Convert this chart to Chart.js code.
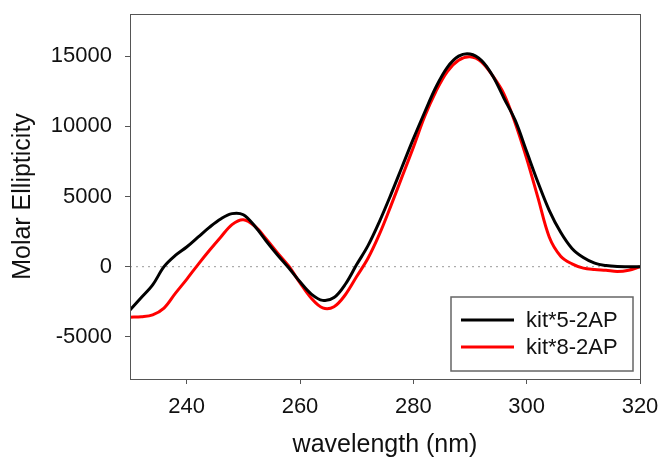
<!DOCTYPE html>
<html>
<head>
<meta charset="utf-8">
<script src="https://cdn.jsdelivr.net/npm/chart.js@4/dist/chart.umd.min.js"></script>
<style>
  html, body { margin: 0; padding: 0; background: #fff; }
  #wrap { width: 660px; height: 464px; }
</style>
</head>
<body>
<div id="wrap"><canvas id="cdChart" width="660" height="464"></canvas></div>
<script>
// CD spectra (molar ellipticity vs wavelength)
const wavelength = [230, 232, 234, 236, 238, 240, 242, 244, 246, 248,
  250, 252, 254, 256, 258, 260, 262, 264, 266, 268,
  270, 272, 274, 276, 278, 280, 282, 284, 286, 288,
  290, 292, 294, 296, 298, 300, 302, 304, 306, 308,
  310, 312, 314, 316, 318, 320];

const kit5 = [-3080, -2200, -1300, 0, 800, 1400, 2100, 2800, 3400, 3780,
  3700, 2900, 1850, 850, -80, -1080, -1950, -2400, -2200, -1250,
  150, 1500, 3200, 5100, 7100, 9100, 11000, 12800, 14200, 15000,
  15150, 14700, 13600, 12000, 10400, 8200, 6000, 4000, 2450, 1300,
  650, 250, 80, 10, 0, 0];

const kit8 = [-3600, -3560, -3430, -2950, -1900, -900, 150, 1150, 2100, 3000,
  3350, 2900, 2000, 1000, 50, -1150, -2250, -2930, -2850, -2000,
  -700, 600, 2300, 4300, 6400, 8500, 10700, 12500, 13900, 14700,
  14950, 14600, 13600, 12300, 10200, 7700, 4900, 2100, 750, 200,
  -100, -200, -260, -340, -250, 0];

const xTicks = [240, 260, 280, 300, 320];
const yTicks = [-5000, 0, 5000, 10000, 15000];

const seriesNames = ["kit*5-2AP", "kit*8-2AP"];
const seriesColors = ["#000000", "#ff0000"];

const axisColor = "#555";
const fontFamily = "'Liberation Sans', Arial, sans-serif";

function toPoints(ys) {
  return wavelength.map((x, i) => ({ x: x, y: ys[i] }));
}

// zero line, frame box and the inset legend
const decorations = {
  id: "decorations",
  beforeDatasetsDraw(chart) {
    const { ctx, chartArea: a, scales } = chart;
    const y0 = scales.y.getPixelForValue(0);
    ctx.save();
    ctx.strokeStyle = "#999";
    ctx.lineWidth = 1;
    ctx.setLineDash([2, 4]);
    ctx.beginPath();
    ctx.moveTo(a.left, y0);
    ctx.lineTo(a.right, y0);
    ctx.stroke();
    ctx.restore();
  },
  afterDraw(chart) {
    const { ctx, chartArea: a } = chart;
    ctx.save();
    ctx.strokeStyle = axisColor;
    ctx.lineWidth = 1;
    ctx.strokeRect(a.left + 0.5, a.top + 0.5, a.right - a.left, a.bottom - a.top);

    // legend box
    const bw = 182, bh = 74;
    const bx = a.right - 7 - bw, by = a.bottom - 8 - bh;
    ctx.fillStyle = "#fff";
    ctx.fillRect(bx, by, bw, bh);
    ctx.strokeStyle = "#666";
    ctx.lineWidth = 1.5;
    ctx.strokeRect(bx, by, bw, bh);
    ctx.font = "22px " + fontFamily;
    ctx.textBaseline = "middle";
    ctx.fillStyle = "#111";
    chart.data.datasets.forEach((ds, i) => {
      const ly = by + 23 + i * 27;
      ctx.strokeStyle = ds.borderColor;
      ctx.lineWidth = 3;
      ctx.beginPath();
      ctx.moveTo(bx + 10, ly);
      ctx.lineTo(bx + 63, ly);
      ctx.stroke();
      ctx.fillText(ds.label, bx + 75, ly + 1);
    });
    ctx.restore();
  }
};

new Chart(document.getElementById("cdChart"), {
  type: "line",
  data: {
    datasets: [
      { label: seriesNames[0], data: toPoints(kit5), borderColor: seriesColors[0] },
      { label: seriesNames[1], data: toPoints(kit8), borderColor: seriesColors[1] }
    ]
  },
  options: {
    responsive: false,
    animation: false,
    devicePixelRatio: 1,
    layout: { padding: { top: 14, right: 20, left: 0, bottom: 0 } },
    elements: {
      point: { radius: 0 },
      line: { borderWidth: 3, tension: 0.35, fill: false }
    },
    plugins: {
      legend: { display: false },
      tooltip: { enabled: false }
    },
    scales: {
      x: {
        type: "linear",
        min: 230,
        max: 320,
        afterBuildTicks: s => { s.ticks = xTicks.map(v => ({ value: v })); },
        afterFit: s => { s.height = 85; s.paddingLeft = 0; s.paddingRight = 0; },
        grid: { drawOnChartArea: false, drawTicks: true, tickLength: 5, color: axisColor },
        border: { color: axisColor },
        ticks: {
          color: "#111", font: { family: fontFamily, size: 22 }, padding: 10, maxRotation: 0,
          callback: v => String(v)
        },
        title: {
          display: true,
          text: "wavelength (nm)",
          color: "#111",
          font: { family: fontFamily, size: 25 },
          padding: { top: 0, bottom: 4 }
        }
      },
      y: {
        min: -8000,
        max: 18000,
        afterBuildTicks: s => { s.ticks = yTicks.map(v => ({ value: v })); },
        afterFit: s => { s.width = 130; s.paddingTop = 0; s.paddingBottom = 0; },
        grid: { drawOnChartArea: false, drawTicks: true, tickLength: 5, color: axisColor },
        border: { color: axisColor },
        ticks: {
          color: "#111", font: { family: fontFamily, size: 22 }, padding: 13,
          callback: v => String(v)
        },
        title: {
          display: true,
          text: "Molar Ellipticity",
          color: "#111",
          font: { family: fontFamily, size: 25 },
          padding: { top: 8, bottom: 0 }
        }
      }
    }
  },
  plugins: [decorations]
});
</script>
</body>
</html>
